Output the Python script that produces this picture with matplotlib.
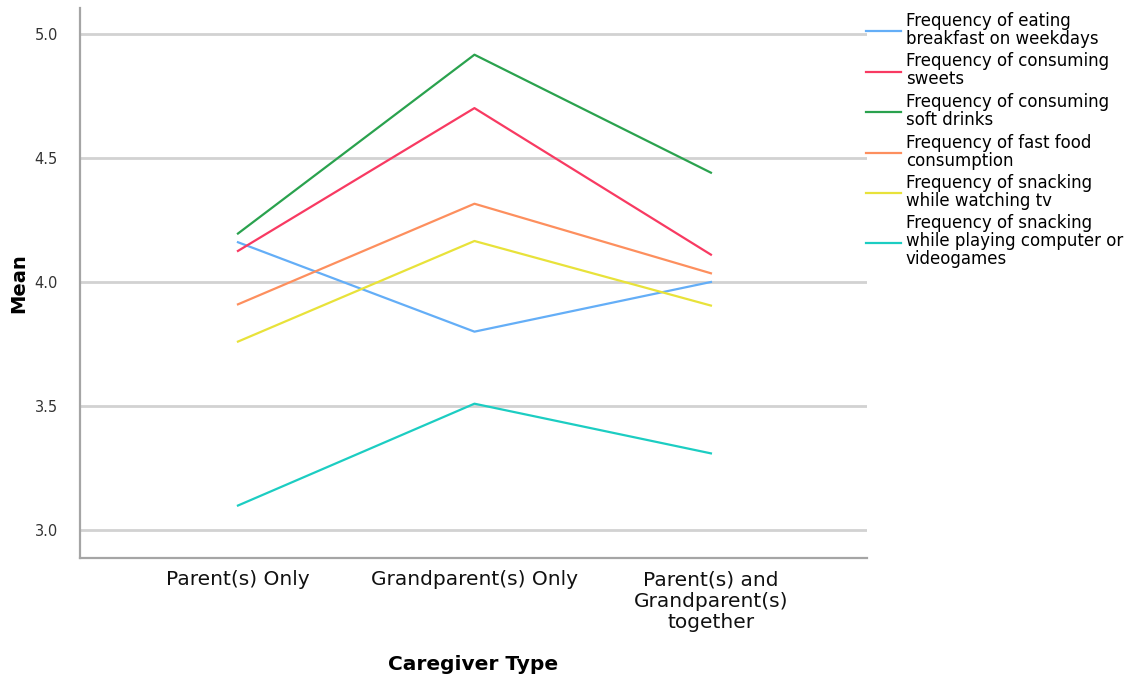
import numpy as np
import matplotlib
matplotlib.use("Agg")
import matplotlib.pyplot as plt

# caregiver groups on the x axis
categories = ["Parent(s) Only", "Grandparent(s) Only", "Parent(s) and\nGrandparent(s)\ntogether"]

# mean frequency per group
breakfast = [4.16, 3.80, 4.00]
sweets = [4.125, 4.70, 4.11]
soft_drinks = [4.195, 4.915, 4.44]
fast_food = [3.91, 4.315, 4.035]
snack_tv = [3.76, 4.165, 3.905]
snack_games = [3.10, 3.51, 3.31]

labels = [
    "Frequency of eating\nbreakfast on weekdays",
    "Frequency of consuming\nsweets",
    "Frequency of consuming\nsoft drinks",
    "Frequency of fast food\nconsumption",
    "Frequency of snacking\nwhile watching tv",
    "Frequency of snacking\nwhile playing computer or\nvideogames",
]
series = [breakfast, sweets, soft_drinks, fast_food, snack_tv, snack_games]
colors = ["#64aef7", "#f83a62", "#2aa24e", "#fd8f5e", "#e8e23a", "#1ccdc2"]

fig = plt.figure(figsize=(11.4, 6.81), dpi=100)
ax = fig.add_axes([80 / 1140, 1 - 557.7 / 681, (867 - 80) / 1140, (557.7 - 8) / 681])

x = np.arange(len(categories))
for vals, lab, col in zip(series, labels, colors):
    ax.plot(x, vals, color=col, lw=1.6, label=lab)

ax.set_xlim(-0.668, 2.66)
ax.set_ylim(2.89, 5.103)
ax.set_yticks([3.0, 3.5, 4.0, 4.5, 5.0])
ax.set_yticklabels(["3.0", "3.5", "4.0", "4.5", "5.0"])
ax.set_xticks(x)
ax.set_xticklabels(categories, fontsize=14.5, linespacing=1.17)
ax.tick_params(axis="y", length=0, pad=16, labelsize=10.5, labelcolor="#333333")
ax.tick_params(axis="x", length=0, pad=9, labelcolor="#111111")

ax.grid(axis="y", color="#d2d2d2", lw=2)
ax.set_axisbelow(True)
for s in ["top", "right"]:
    ax.spines[s].set_visible(False)
for s in ["left", "bottom"]:
    ax.spines[s].set_color("#a5a5a5")
    ax.spines[s].set_linewidth(1.6)

ax.set_ylabel("Mean", fontsize=14, fontweight="bold")
ax.yaxis.set_label_coords(-52 / 787, 0.5)
ax.set_xlabel("Caregiver Type", fontsize=14.5, fontweight="bold", labelpad=16)

leg = ax.legend(loc="upper left", bbox_to_anchor=(866 / 1140, 1 - 12 / 681),
                bbox_transform=fig.transFigure, frameon=False, fontsize=12,
                borderaxespad=0, borderpad=0, handlelength=2.1, handletextpad=0.3,
                labelspacing=0.27)
for t in leg.get_texts():
    t.set_linespacing(1.0)

fig.savefig("out.png", dpi=100)
